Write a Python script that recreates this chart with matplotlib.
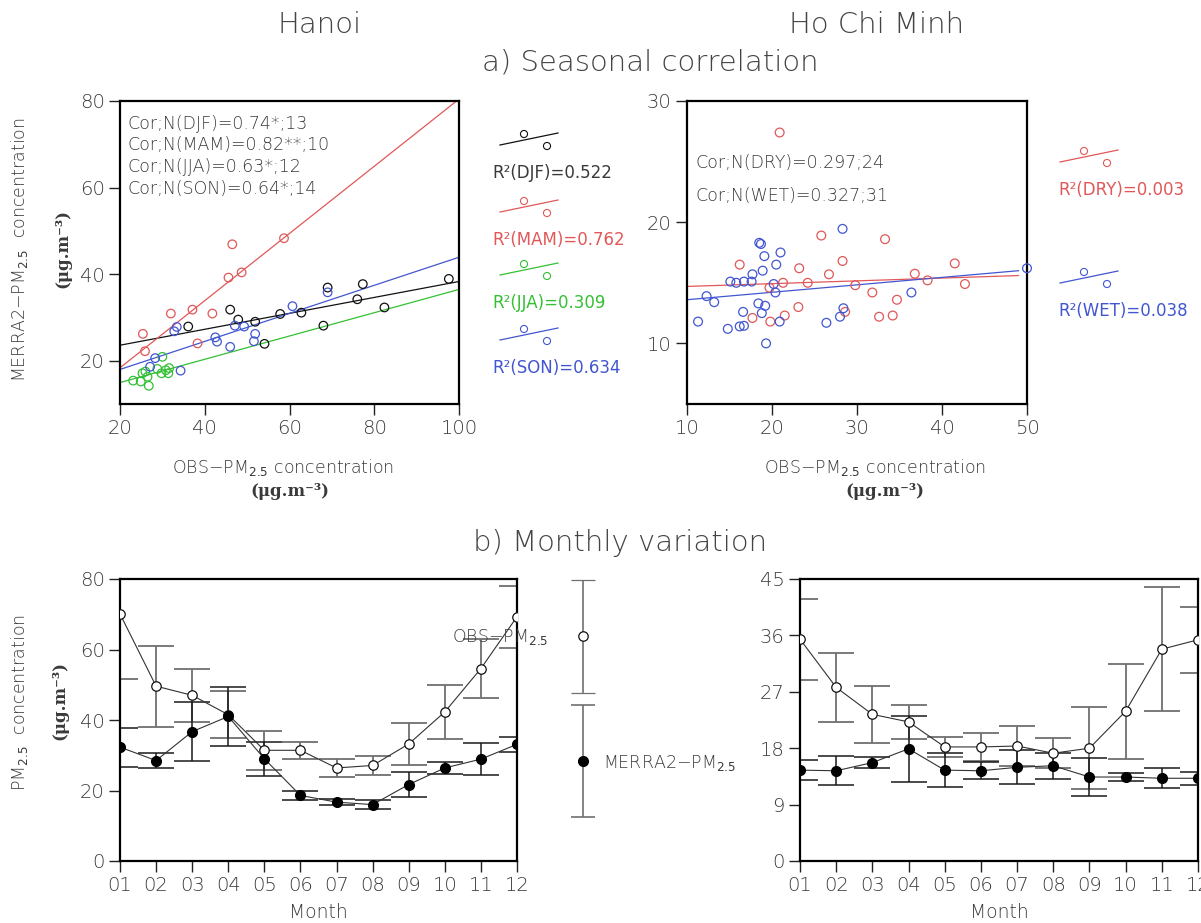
import matplotlib
matplotlib.use("Agg")
import matplotlib.pyplot as plt
import numpy as np

W, H = 1201, 923

# ---------- a) seasonal scatter, Hanoi (x = OBS, y = MERRA2) ----------
hn_djf_x = [46.0, 47.9, 36.1, 51.9, 57.8, 62.8, 69.0, 54.1, 68.0, 76.0, 77.3, 97.6, 82.4]
hn_djf_y = [31.8, 29.5, 27.9, 29.0, 30.8, 31.1, 36.9, 23.9, 28.1, 34.2, 37.7, 38.9, 32.3]
hn_mam_x = [46.5, 58.7, 45.6, 48.7, 32.0, 37.1, 41.8, 25.4, 25.9, 38.3]
hn_mam_y = [46.9, 48.3, 39.2, 40.4, 30.9, 31.8, 30.9, 26.2, 22.2, 24.0]
hn_jja_x = [30.0, 28.8, 31.6, 31.4, 29.8, 25.3, 26.5, 23.1, 24.9, 26.8, 26.0, 30.8]
hn_jja_y = [20.9, 18.1, 18.3, 17.1, 17.1, 17.1, 16.3, 15.4, 15.2, 14.2, 17.5, 17.8]
hn_son_x = [60.7, 69.0, 33.4, 32.8, 47.1, 49.3, 42.5, 42.9, 46.0, 51.9, 51.6, 28.3, 27.1, 34.3]
hn_son_y = [32.6, 35.8, 27.8, 26.8, 28.1, 27.9, 25.4, 24.4, 23.2, 26.2, 24.5, 20.6, 18.6, 17.7]
# fitted lines: (intercept, slope)
hn_fit = {"DJF": (19.9, 0.184), "MAM": (2.84, 0.776), "JJA": (9.57, 0.269), "SON": (11.5, 0.324)}
hn_fit_range = [20, 100]
hn_cor = ["Cor;N(DJF)=0.74*;13", "Cor;N(MAM)=0.82**;10", "Cor;N(JJA)=0.63*;12", "Cor;N(SON)=0.64*;14"]
hn_r2 = ["R²(DJF)=0.522", "R²(MAM)=0.762", "R²(JJA)=0.309", "R²(SON)=0.634"]

# ---------- a) seasonal scatter, Ho Chi Minh ----------
hcm_dry_x = [20.9, 25.8, 28.3, 16.2, 23.2, 26.7, 21.3, 24.2, 19.7, 23.1, 21.5, 17.7, 19.8, 28.6,
             33.3, 29.8, 31.8, 34.7, 32.6, 34.2, 36.8, 38.3, 41.5, 42.7]
hcm_dry_y = [27.4, 18.9, 16.8, 16.5, 16.2, 15.7, 15.0, 15.0, 14.6, 13.0, 12.3, 12.1, 11.8, 12.6,
             18.6, 14.8, 14.2, 13.6, 12.2, 12.3, 15.75, 15.2, 16.6, 14.9]
hcm_wet_x = [28.3, 18.5, 18.7, 21.0, 19.1, 20.5, 18.9, 17.7, 15.1, 15.8, 16.7, 17.6, 20.2, 20.4,
             12.3, 13.2, 18.4, 19.2, 16.6, 18.8, 11.3, 20.9, 14.8, 16.2, 16.7, 19.3, 26.4, 28.0,
             28.4, 36.4, 50.0]
hcm_wet_y = [19.45, 18.3, 18.2, 17.5, 17.2, 16.5, 16.0, 15.7, 15.1, 15.0, 15.1, 15.1, 14.9, 14.2,
             13.9, 13.4, 13.3, 13.1, 12.6, 12.5, 11.8, 11.8, 11.2, 11.4, 11.45, 10.0, 11.7, 12.2,
             12.9, 14.2, 16.2]
hcm_fit = {"DRY": (14.47, 0.023), "WET": (12.99, 0.0614)}
hcm_fit_range = [10, 49]
hcm_cor = ["Cor;N(DRY)=0.297;24", "Cor;N(WET)=0.327;31"]
hcm_r2 = ["R²(DRY)=0.003", "R²(WET)=0.038"]

# ---------- b) monthly variation ----------
months = list(range(1, 13))
month_labels = ["01", "02", "03", "04", "05", "06", "07", "08", "09", "10", "11", "12"]
hn_obs = [70.1, 49.6, 47.0, 41.5, 31.4, 31.4, 26.4, 27.1, 33.2, 42.3, 54.6, 69.3]
hn_obs_sd = [18.6, 11.5, 7.6, 6.6, 5.5, 2.4, 2.6, 2.6, 6.0, 7.7, 8.5, 8.8]
hn_merra = [32.3, 28.5, 36.7, 41.0, 29.0, 18.6, 16.7, 16.0, 21.7, 26.4, 28.9, 33.1]
hn_merra_sd = [5.5, 2.0, 8.3, 8.5, 4.9, 1.2, 0.9, 1.3, 3.5, 1.6, 4.5, 2.1]
hcm_obs = [35.4, 27.7, 23.4, 22.2, 18.2, 18.2, 18.35, 17.2, 18.0, 23.9, 33.8, 35.3]
hcm_obs_sd = [6.45, 5.5, 4.6, 2.75, 1.55, 2.3, 3.2, 2.4, 6.5, 7.6, 9.9, 5.25]
hcm_merra = [14.5, 14.4, 15.7, 17.9, 14.5, 14.4, 14.95, 15.2, 13.4, 13.4, 13.2, 13.2]
hcm_merra_sd = [1.6, 2.35, 0.85, 5.25, 2.75, 1.35, 2.7, 2.1, 3.0, 0.7, 1.6, 1.0]

RED, BLUE, GREEN, BLACK = "#e05858", "#4256d0", "#34c034", "#111111"
TXT = "#3a3a3a"
UNIT = "(μg.m⁻³)"
LIGHT = "light"

plt.rcParams["font.family"] = ["DejaVu Sans"]


def ax_px(l, t, r, b):
    return [l / W, 1 - b / H, (r - l) / W, (b - t) / H]


def fig_text(x, y, s, **kw):
    kw.setdefault("color", TXT)
    kw.setdefault("ha", "center")
    kw.setdefault("va", "center")
    fig.text(x / W, 1 - y / H, s, **kw)


def style(ax):
    for sp in ax.spines.values():
        sp.set_linewidth(1.6)
    ax.tick_params(direction="out", length=8, width=1, labelsize=14,
                   labelcolor=TXT, color="#222222", pad=3)
    for lab in ax.get_xticklabels() + ax.get_yticklabels():
        lab.set_fontweight(LIGHT)


fig = plt.figure(figsize=(W / 100, H / 100), dpi=100)

# --- top left
ax1 = fig.add_axes(ax_px(120, 101, 459, 404))
series = [(hn_djf_x, hn_djf_y, BLACK, "DJF"), (hn_mam_x, hn_mam_y, RED, "MAM"),
          (hn_jja_x, hn_jja_y, GREEN, "JJA"), (hn_son_x, hn_son_y, BLUE, "SON")]
fx = np.array(hn_fit_range, dtype=float)
for xs, ys, c, k in series:
    a, b = hn_fit[k]
    ax1.plot(fx, a + b * fx, color=c, lw=0.9, zorder=2)
    ax1.scatter(xs, ys, s=38, facecolors="none", edgecolors=c, linewidths=0.9, zorder=3)
ax1.set_xlim(20, 100)
ax1.set_ylim(10, 80)
ax1.set_xticks([20, 40, 60, 80, 100])
ax1.set_yticks([20, 40, 60, 80])
style(ax1)
for i, s in enumerate(hn_cor):
    ax1.text(0.022, 0.925 - i * 0.0715, s, transform=ax1.transAxes, fontsize=12.5,
             color=TXT, ha="left", va="center", fontweight=LIGHT)

# --- top right
ax2 = fig.add_axes(ax_px(687, 101, 1027, 404))
fx = np.array(hcm_fit_range, dtype=float)
for xs, ys, c, k in [(hcm_dry_x, hcm_dry_y, RED, "DRY"), (hcm_wet_x, hcm_wet_y, BLUE, "WET")]:
    a, b = hcm_fit[k]
    ax2.plot(fx, a + b * fx, color=c, lw=0.9, zorder=2)
    ax2.scatter(xs, ys, s=40, facecolors="none", edgecolors=c, linewidths=0.9,
                zorder=3, clip_on=False)
ax2.set_xlim(10, 50)
ax2.set_ylim(5, 30)
ax2.set_xticks([10, 20, 30, 40, 50])
ax2.set_yticks([10, 20, 30])
style(ax2)
for i, s in enumerate(hcm_cor):
    ax2.text(0.025, 0.795 - i * 0.11, s, transform=ax2.transAxes, fontsize=12.5,
             color=TXT, ha="left", va="center", fontweight=LIGHT)


def monthly(ax, obs, obs_sd, mer, mer_sd, ylim, yticks):
    ax.errorbar(months, obs, yerr=obs_sd, fmt="none", ecolor="#707070", elinewidth=1.3,
                capsize=13, capthick=1.3, zorder=2)
    ax.errorbar(months, mer, yerr=mer_sd, fmt="none", ecolor="#1a1a1a", elinewidth=1.1,
                capsize=13, capthick=1.1, zorder=2)
    ax.plot(months, obs, "-o", color="#333333", lw=0.8, ms=6.8, mfc="white",
            mec="#111111", mew=0.9, zorder=4)
    ax.plot(months, mer, "-o", color="#333333", lw=0.8, ms=7, mfc="black",
            mec="black", zorder=4)
    ax.set_xlim(1, 12)
    ax.set_ylim(*ylim)
    ax.set_xticks(months)
    ax.set_xticklabels(month_labels)
    ax.set_yticks(yticks)
    style(ax)


ax3 = fig.add_axes(ax_px(120, 579, 517, 861))
monthly(ax3, hn_obs, hn_obs_sd, hn_merra, hn_merra_sd, (0, 80), [0, 20, 40, 60, 80])
ax4 = fig.add_axes(ax_px(800, 579, 1198, 861))
monthly(ax4, hcm_obs, hcm_obs_sd, hcm_merra, hcm_merra_sd, (0, 45), [0, 9, 18, 27, 36, 45])

# --- overlay for legend keys (pixel coordinates)
ov = fig.add_axes([0, 0, 1, 1], zorder=10)
ov.set_xlim(0, W)
ov.set_ylim(H, 0)
ov.axis("off")
ov.patch.set_alpha(0)


def key(x0, ty, c):
    ov.plot([x0, x0 + 58], [ty - 28, ty - 40], color=c, lw=0.9)
    ov.scatter([x0 + 24, x0 + 47], [ty - 39, ty - 27], s=26, facecolors="none",
               edgecolors=c, linewidths=0.8)


for (s, c, ty) in zip(hn_r2, [BLACK, RED, GREEN, BLUE], [173, 240, 303, 368]):
    key(500, ty, c)
    ov.text(492, ty, s, color=c if c != BLACK else TXT, fontsize=12, ha="left",
            va="center")
for (s, c, ty) in zip(hcm_r2, [RED, BLUE], [190, 311]):
    key(1060, ty, c)
    ov.text(1058, ty, s, color=c, fontsize=12, ha="left", va="center")

# monthly legend
ov.errorbar([583], [636], yerr=[[56], [57]], fmt="o", ms=6.8, mfc="white", mec="#111111",
            mew=0.9, ecolor="#707070", elinewidth=1.2, capsize=8.5, capthick=1.2)
ov.errorbar([583], [761], yerr=[[56], [56]], fmt="o", ms=7, mfc="black", mec="black",
            ecolor="#707070", elinewidth=1.2, capsize=8.5, capthick=1.2)
ov.text(548, 637, "OBS−PM$_{2.5}$", fontsize=12.5, color=TXT, ha="right", va="center",
        fontweight=LIGHT)
ov.text(603, 763, "MERRA2−PM$_{2.5}$", fontsize=12.5, color=TXT, ha="left", va="center",
        fontweight=LIGHT)

# --- titles and labels
TITLE = dict(fontsize=21, color="#444444", fontweight=LIGHT)
fig_text(320, 25, "Hanoi", **TITLE)
fig_text(877, 25, "Ho Chi Minh", **TITLE)
fig_text(650, 62, "a) Seasonal correlation", **TITLE)
fig_text(620, 543, "b) Monthly variation", **TITLE)

LAB = dict(fontsize=12.5, fontweight=LIGHT)
fig_text(20, 250, "MERRA2−PM$_{2.5}$  concentration", rotation=90, **LAB)
fig_text(63, 248, UNIT, fontsize=12, rotation=90, family="DejaVu Serif", weight="bold")
fig_text(283, 467, "OBS−PM$_{2.5}$ concentration", **LAB)
fig_text(290, 491, UNIT, fontsize=12, family="DejaVu Serif", weight="bold")
fig_text(875, 467, "OBS−PM$_{2.5}$ concentration", **LAB)
fig_text(885, 491, UNIT, fontsize=12, family="DejaVu Serif", weight="bold")

fig_text(20, 702, "PM$_{2.5}$  concentration", rotation=90, **LAB)
fig_text(60, 700, UNIT, fontsize=12, rotation=90, family="DejaVu Serif", weight="bold")
fig_text(318, 912, "Month", fontsize=13.5, fontweight=LIGHT)
fig_text(999, 912, "Month", fontsize=13.5, fontweight=LIGHT)

fig.savefig("out.png", dpi=100)
